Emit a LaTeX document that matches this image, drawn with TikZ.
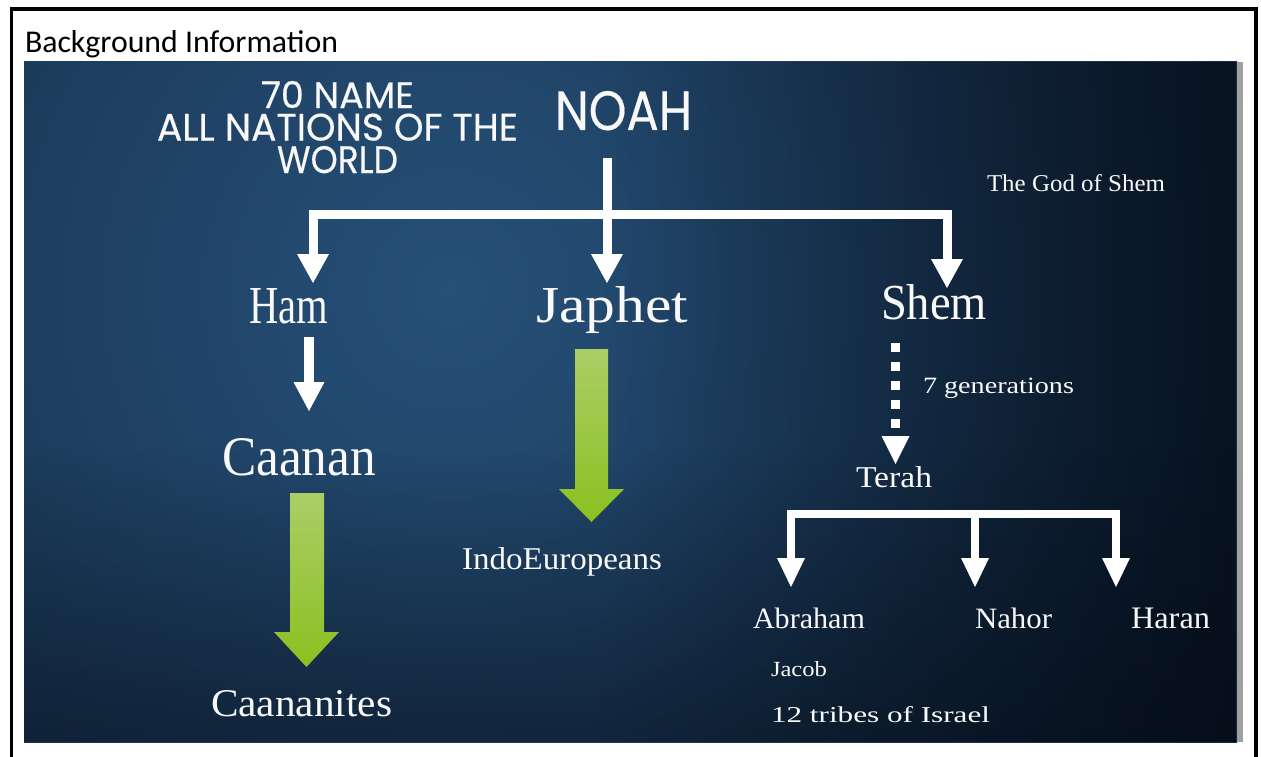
\documentclass[tikz,border=0pt]{standalone}
\usepackage{fontspec}
\usepackage{graphicx}
\usetikzlibrary{arrows.meta,fadings}
\newfontfamily\simf{Liberation Serif}
\newfontfamily\comf[FakeBold=0.4]{Poppins}
\newfontfamily\calf{Carlito}
\newcommand\fitbox[3]{\resizebox{#1pt}{#2pt}{#3}}
\definecolor{slideIn}{RGB}{38,80,120}
\definecolor{slideOut}{RGB}{6,16,30}
\definecolor{gtop}{RGB}{172,205,102}
\definecolor{gbot}{RGB}{138,193,32}
\definecolor{txtw}{RGB}{248,248,248}
\definecolor{stripe}{RGB}{160,160,160}
\definecolor{deep}{RGB}{4,10,20}
\tikzset{
  lbl/.style={anchor=base west, inner sep=0pt, outer sep=0pt, text=txtw},
  wbig/.style={draw=white, line width=9pt, line join=miter,
    -{Triangle[width=32pt,length=29pt,line width=0pt]}},
  wham/.style={draw=white, line width=10pt, line join=miter,
    -{Triangle[width=31pt,length=29pt,line width=0pt]}},
  wsmall/.style={draw=white, line width=8pt, line join=miter,
    -{Triangle[width=28pt,length=29pt,line width=0pt]}},
  wdots/.style={draw=white, line width=9pt, dash pattern=on 9pt off 10pt,
    -{Triangle[width=28pt,length=28pt,line width=0pt]}},
  garrow/.style={top color=gtop, bottom color=gbot, draw=none}
}
\begin{document}
\begin{tikzpicture}[x=1pt,y=-1pt]
\useasboundingbox (0,0) rectangle (1261,757);
\fill[white] (0,0) rectangle (1261,757);
% slide background
\begin{scope}
  \clip (24,62) rectangle (1237,742);
  \shade[inner color=slideIn, outer color=slideOut] (450,290) circle (1500pt);
  \fill[deep, opacity=0.75, path fading=west] (600,62) rectangle (1237,742);
  \fill[deep, opacity=0.45, path fading=north] (24,450) rectangle (1237,742);
\end{scope}
\fill[stripe] (1237,62) rectangle (1243,742);
% outer frame
\draw[line width=3.5pt] (11.5,762) -- (11.5,9) -- (1256,9) -- (1256,762);

% header
\node[lbl, text=black] (bginfo) at (25,53) {\fitbox{313}{22}{\calf Background Information}};

% comic title texts
\node[anchor=north, inner sep=0pt, outer sep=0pt, text=txtw, align=center,
      font=\fontsize{27}{32.5}\selectfont] (title) at (337.5,81)
  {\fitbox{153}{27}{\comf 70 NAME}\\
   \fitbox{361}{27}{\comf ALL NATIONS OF THE}\\
   \fitbox{121}{27}{\comf WORLD}};
\node[lbl] (noah) at (555,130) {\fitbox{137}{39}{\comf NOAH}};

% names
\node[lbl] (godshem) at (987,191.5) {\fitbox{178}{17}{\simf The God of Shem}};
\node[lbl] (ham) at (249,323) {\fitbox{79}{35}{\simf Ham}};
\node[lbl] (japhet) at (536,322) {\fitbox{152}{36}{\simf Japhet}};
\node[lbl] (shem) at (881,319) {\fitbox{106}{35}{\simf Shem}};
\node[lbl] (gen7) at (923,393) {\fitbox{151}{15.5}{\simf 7 generations}};
\node[lbl] (terah) at (856,487) {\fitbox{76}{21}{\simf Terah}};
\node[lbl] (caanan) at (222,475) {\fitbox{154}{37}{\simf Caanan}};
\node[lbl] (indo) at (462,569) {\fitbox{200}{22}{\simf IndoEuropeans}};
\node[lbl] (caananites) at (211,716) {\fitbox{181}{26}{\simf Caananites}};
\node[lbl] (abraham) at (753,628) {\fitbox{112}{20.5}{\simf Abraham}};
\node[lbl] (nahor) at (975,628) {\fitbox{77}{20.5}{\simf Nahor}};
\node[lbl] (haran) at (1131,628) {\fitbox{79}{20.5}{\simf Haran}};
\node[lbl] (jacob) at (771,676) {\fitbox{56}{15}{\simf Jacob}};
\node[lbl] (tribes) at (771,722) {\fitbox{219}{16}{\simf 12 tribes of Israel}};

% connector points
\coordinate (noahstem) at (607,158);
\coordinate (j1) at (607,214);
\coordinate (hamtip) at (313,283);
\coordinate (japhettip) at (607,283);
\coordinate (shemtip) at (947,288);
\coordinate (hamout) at (309,337);
\coordinate (caanantip) at (309,411);
\coordinate (shemout) at (895.5,343);
\coordinate (terahtip) at (895.5,464);
\coordinate (j2) at (975,514);
\coordinate (abrtip) at (791,587);
\coordinate (nahtip) at (975,587);
\coordinate (hartip) at (1116,587);

% white connectors
\draw[wbig] (noahstem) -- (japhettip);
\draw[wbig] (j1) -| (hamtip);
\draw[wbig] (j1) -| (shemtip);
\draw[wham] (hamout) -- (caanantip);
\draw[wdots] (shemout) -- (terahtip);
\draw[wsmall] (j2) -| (abrtip);
\draw[wsmall] (j2) -- (nahtip);
\draw[wsmall] (j2) -| (hartip);

% green block arrows
\shade[garrow] (575,349) -- (608,349) -- (608,489) -- (624,489) -- (591.5,522)
  -- (559,489) -- (575,489) -- cycle;
\shade[garrow] (290,493) -- (324,493) -- (324,632) -- (339,632) -- (306.5,667)
  -- (274,632) -- (290,632) -- cycle;
\end{tikzpicture}
\end{document}
